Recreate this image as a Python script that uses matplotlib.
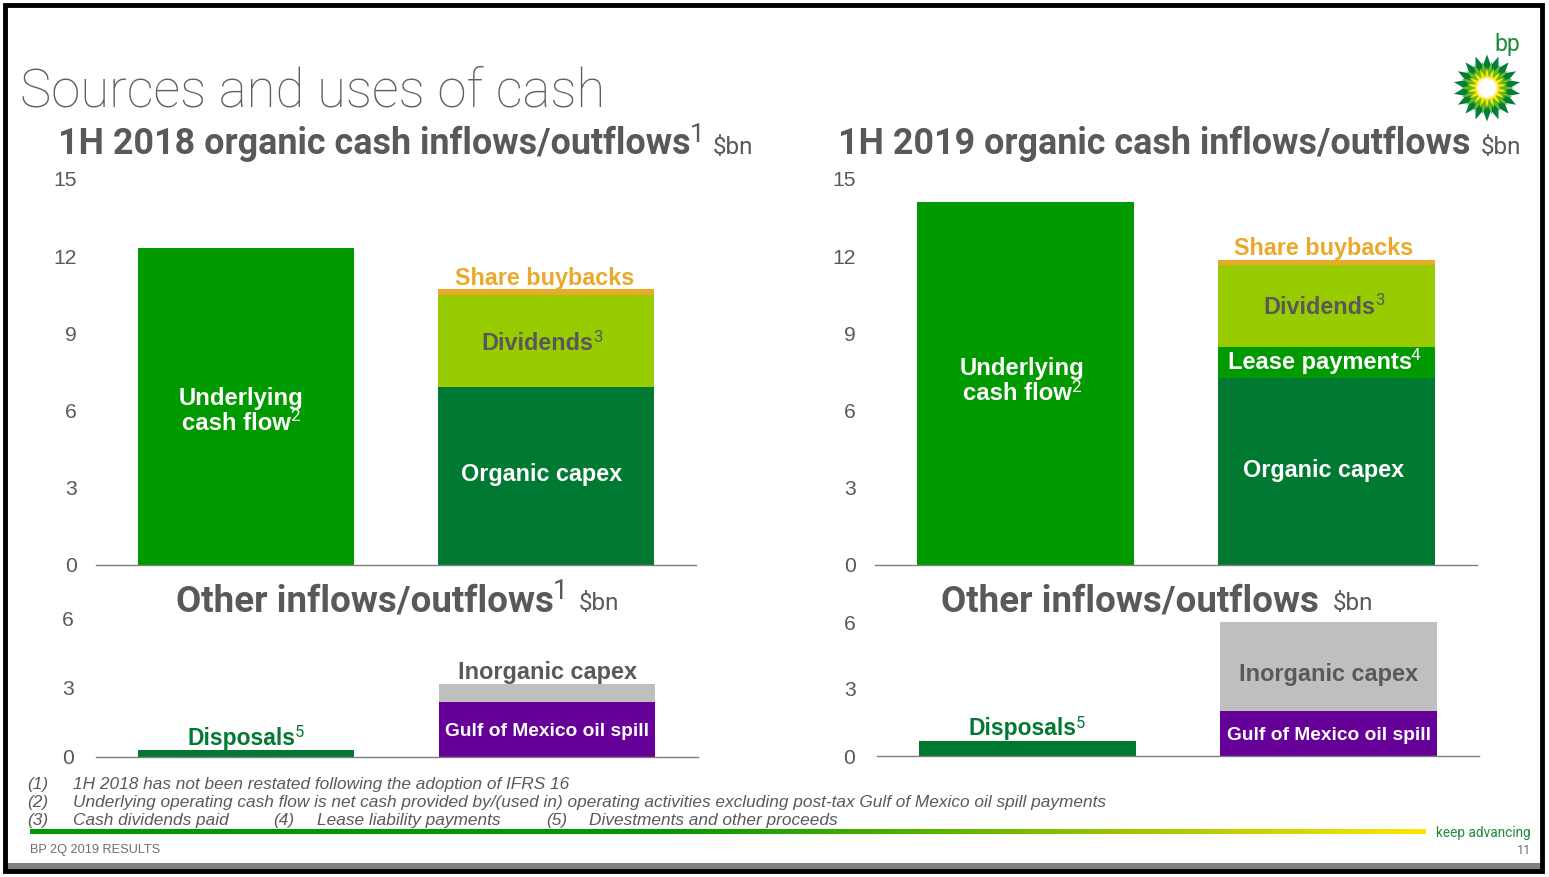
import numpy as np
import matplotlib
matplotlib.use("Agg")
import matplotlib.pyplot as plt
from matplotlib.patches import Rectangle, Polygon, Circle

W, H = 1549, 877
plt.rcParams['font.family'] = ['Liberation Sans', 'DejaVu Sans']

# valores ($bn)
categories = ["inflows", "outflows"]
top_ticks = [0, 3, 6, 9, 12, 15]
ucf_2018 = [12.32]
capex_2018 = [6.92]
dividends_2018 = [3.57]
buybacks_2018 = [0.24]
ucf_2019 = [14.1]
capex_2019 = [7.27]
lease_2019 = [1.2]
dividends_2019 = [3.19]
buybacks_2019 = [0.19]

other_ticks = [0, 3, 6]
disposals = [0.3, 0.68]
gom_spill = [2.38, 2.03]
inorganic = [0.78, 3.97]

GREY = "#595959"
C_UCF = "#009900"
C_CAPEX = "#007A33"
C_DIV = "#99CC00"
C_BUY = "#EBA92B"
C_INORG = "#BFBFBF"
C_GOM = "#660099"

fig = plt.figure(figsize=(W / 100, H / 100), dpi=100, facecolor="white")


def make_ax(x0, x1, ytop, y0, ymax, ticks, color="#7f7f7f"):
    # ejes en pixeles de la imagen
    ax = fig.add_axes([x0 / W, 1 - y0 / H, (x1 - x0) / W, (y0 - ytop) / H])
    ax.set_xlim(-0.5, 1.5)
    ax.set_ylim(0, ymax)
    ax.patch.set_alpha(0)
    for s in ["top", "right", "left"]:
        ax.spines[s].set_visible(False)
    ax.spines["bottom"].set_color(color)
    ax.spines["bottom"].set_linewidth(1)
    ax.set_xticks([])
    ax.set_yticks(ticks)
    ax.tick_params(axis="y", length=0, labelsize=15.2, labelcolor=GREY)
    return ax


def stack(ax, pos, values, colors):
    bottom = 0
    for v, c in zip(values, colors):
        ax.bar(pos, v, width=0.72, bottom=bottom, color=c, linewidth=0)
        bottom += v


ax1 = make_ax(96, 696, 179, 565, 15, top_ticks)
ax1.bar(0, ucf_2018[0], width=0.72, color=C_UCF, linewidth=0)
stack(ax1, 1, [capex_2018[0], dividends_2018[0], buybacks_2018[0]], [C_CAPEX, C_DIV, C_BUY])
ax1.tick_params(axis="y", pad=14)

ax2 = make_ax(875, 1477, 179, 565, 15, top_ticks)
ax2.bar(0, ucf_2019[0], width=0.72, color=C_UCF, linewidth=0)
stack(ax2, 1, [capex_2019[0], lease_2019[0], dividends_2019[0], buybacks_2019[0]],
      [C_CAPEX, C_UCF, C_DIV, C_BUY])
ax2.tick_params(axis="y", pad=14)

ax3 = make_ax(95.5, 697.5, 618, 757, 6, other_ticks)
ax3.bar(0, disposals[0], width=0.72, color=C_CAPEX, linewidth=0)
stack(ax3, 1, [gom_spill[0], inorganic[0]], [C_GOM, C_INORG])
ax3.tick_params(axis="y", pad=15.5)

ax4 = make_ax(877, 1479, 622, 756, 6, other_ticks)
ax4.bar(0, disposals[1], width=0.72, color=C_CAPEX, linewidth=0)
stack(ax4, 1, [gom_spill[1], inorganic[1]], [C_GOM, C_INORG])
ax4.tick_params(axis="y", pad=15.5)

# capa en pixeles: marco, logo y textos
ov = fig.add_axes([0, 0, 1, 1], zorder=5)
ov.set_xlim(0, W)
ov.set_ylim(H, 0)
ov.axis("off")
ov.patch.set_alpha(0)
rend = fig.canvas.get_renderer()


def label(x, y, txt, size, color=GREY, sup=None, ha="center", family="Liberation Sans"):
    # texto con superindice opcional, (x, y) = centro o borde izquierdo
    t = ov.text(x, y, txt, fontsize=size, color=color, fontweight="bold", ha="left",
                va="center", family=family)
    w = t.get_window_extent(rend).width
    s = None
    sw = 0
    if sup:
        s = ov.text(x, y - size * 0.36, sup, fontsize=size * 0.72, color=color,
                    fontweight="normal", ha="left", va="center", family="Roboto")
        sw = s.get_window_extent(rend).width - 1
    left = x - (w + sw) / 2 if ha == "center" else x
    t.set_x(left)
    if s:
        s.set_x(left + w - 1)


def money(x, y):
    ov.text(x, y, r"\$bn", fontsize=17.5, color=GREY, va="center", family="Roboto")


# titulos
ov.text(20, 92, "Sources and uses of cash", fontsize=38, color="#5f5f5f", family="Roboto",
        fontweight="light", ha="left", va="center")
label(58, 144, "1H 2018 organic cash inflows/outflows", 25.8, sup="1", ha="left", family="Roboto")
money(713, 147)
label(838, 144, "1H 2019 organic cash inflows/outflows", 25.8, ha="left", family="Roboto")
money(1481, 147)
label(176, 601, "Other inflows/outflows", 26.5, sup="1", ha="left", family="Roboto")
money(579, 604)
label(941, 601, "Other inflows/outflows", 26.5, ha="left", family="Roboto")
money(1333, 604)

# etiquetas 2018
label(241, 398, "Underlying", 17.2, color="white")
label(241, 423, "cash flow", 17.2, color="white", sup="2")
label(545, 278, "Share buybacks", 16.8, color=C_BUY)
label(542, 344, "Dividends", 16.8, sup="3")
label(542, 474, "Organic capex", 16.8, color="white")
# etiquetas 2019
label(1022, 368, "Underlying", 17.2, color="white")
label(1022, 394, "cash flow", 17.2, color="white", sup="2")
label(1324, 248, "Share buybacks", 16.8, color=C_BUY)
label(1324, 307, "Dividends", 16.8, sup="3")
label(1324, 362, "Lease payments", 17, color="white", sup="4")
label(1324, 470, "Organic capex", 16.8, color="white")
# otros
label(246, 738, "Disposals", 16.5, color=C_CAPEX, sup="5")
label(548, 672, "Inorganic capex", 16.9)
label(547, 731, "Gulf of Mexico oil spill", 13.8, color="white")
label(1027, 729, "Disposals", 16.5, color=C_CAPEX, sup="5")
label(1329, 674, "Inorganic capex", 16.9)
label(1329, 735, "Gulf of Mexico oil spill", 13.8, color="white")

# notas al pie
notes = [
    (27, 784, "(1)"), (73, 784, "1H 2018 has not been restated following the adoption of IFRS 16"),
    (27, 802, "(2)"), (73, 802, "Underlying operating cash flow is net cash provided by/(used in) operating activities excluding post-tax Gulf of Mexico oil spill payments"),
    (27, 820, "(3)"), (73, 820, "Cash dividends paid"), (273, 820, "(4)"), (317, 820, "Lease liability payments"),
    (546, 820, "(5)"), (589, 820, "Divestments and other proceeds"),
]
for x, y, s in notes:
    ov.text(x, y, s, fontsize=12.4, color=GREY, style="italic", ha="left", va="center")

ov.text(30, 850, "BP 2Q 2019 RESULTS", fontsize=9.2, color="#6e6e6e", va="center")
ov.text(1531, 833, "keep advancing", fontsize=9.8, color="#1E8A3C", ha="right", va="center", family="Roboto")
ov.text(1531, 850, "11", fontsize=9.2, color="#6e6e6e", ha="right", va="center", family="Roboto")

# linea degradada
grad = np.array([[0.0, 0.6, 0.0], [0.0, 0.6, 0.0], [0.35, 0.7, 0.0], [0.65, 0.78, 0.0], [1.0, 0.9, 0.0]])
xs = np.linspace(0, 1, 400)
pos = [0, 0.45, 0.65, 0.8, 1]
rgb = np.stack([np.interp(xs, pos, grad[:, i]) for i in range(3)], axis=1)[None, :, :]
ov.imshow(rgb, extent=(30, 1426, 834, 829), aspect="auto", zorder=2)
ov.set_xlim(0, W)
ov.set_ylim(H, 0)

# logo
cx, cy = 1487, 88


def star(r_out, r_in, n, color, phase=0.0):
    ang = np.arange(2 * n) * np.pi / n + phase - np.pi / 2
    rad = np.where(np.arange(2 * n) % 2 == 0, r_out, r_in)
    ov.add_patch(Polygon(np.c_[cx + rad * np.cos(ang), cy + rad * np.sin(ang)], closed=True,
                         facecolor=color, edgecolor="none", zorder=6))


star(33.5, 23, 18, "#007F3B")
star(27, 16, 18, "#66B821", phase=np.pi / 18)
star(21, 11, 18, "#FFE600")
ov.add_patch(Circle((cx, cy), 11, facecolor="#FFF2A0", edgecolor="none", zorder=7))
ov.add_patch(Circle((cx, cy), 9, facecolor="white", edgecolor="none", zorder=7))
ov.text(1507, 44, "bp", fontsize=16.5, color="#1E8A3C", ha="center", va="center", family="Roboto")

# marco
ov.add_patch(Rectangle((7, 863), 1534, 7, facecolor="#808080", edgecolor="none", zorder=8))
ov.add_patch(Rectangle((5, 5), 1537, 866, facecolor="none", edgecolor="black", linewidth=3.5, zorder=9))

fig.savefig("out.png", dpi=100, facecolor="white")
